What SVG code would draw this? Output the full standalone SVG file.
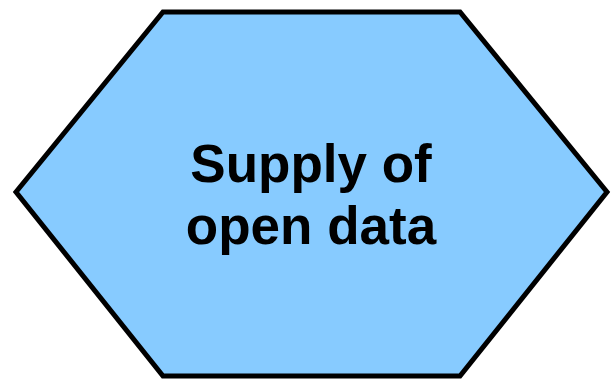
<svg xmlns="http://www.w3.org/2000/svg" width="615" height="389" viewBox="0 0 615 389">
<style>
.shape{fill:#87CBFF;stroke:#000;stroke-width:5;stroke-linejoin:miter}
.label{font-family:"Liberation Sans",Arial,sans-serif;font-weight:bold;font-size:53px;fill:#000;text-anchor:middle}
</style>
<g id="node-supply">
<polygon class="shape" points="163,12 460,12 607,192 460,376 163,376 16,192"/>
<text class="label" x="311" y="182">Supply of</text>
<text class="label" x="311" y="244">open data</text>
</g>
<g id="connectors"/>
</svg>
